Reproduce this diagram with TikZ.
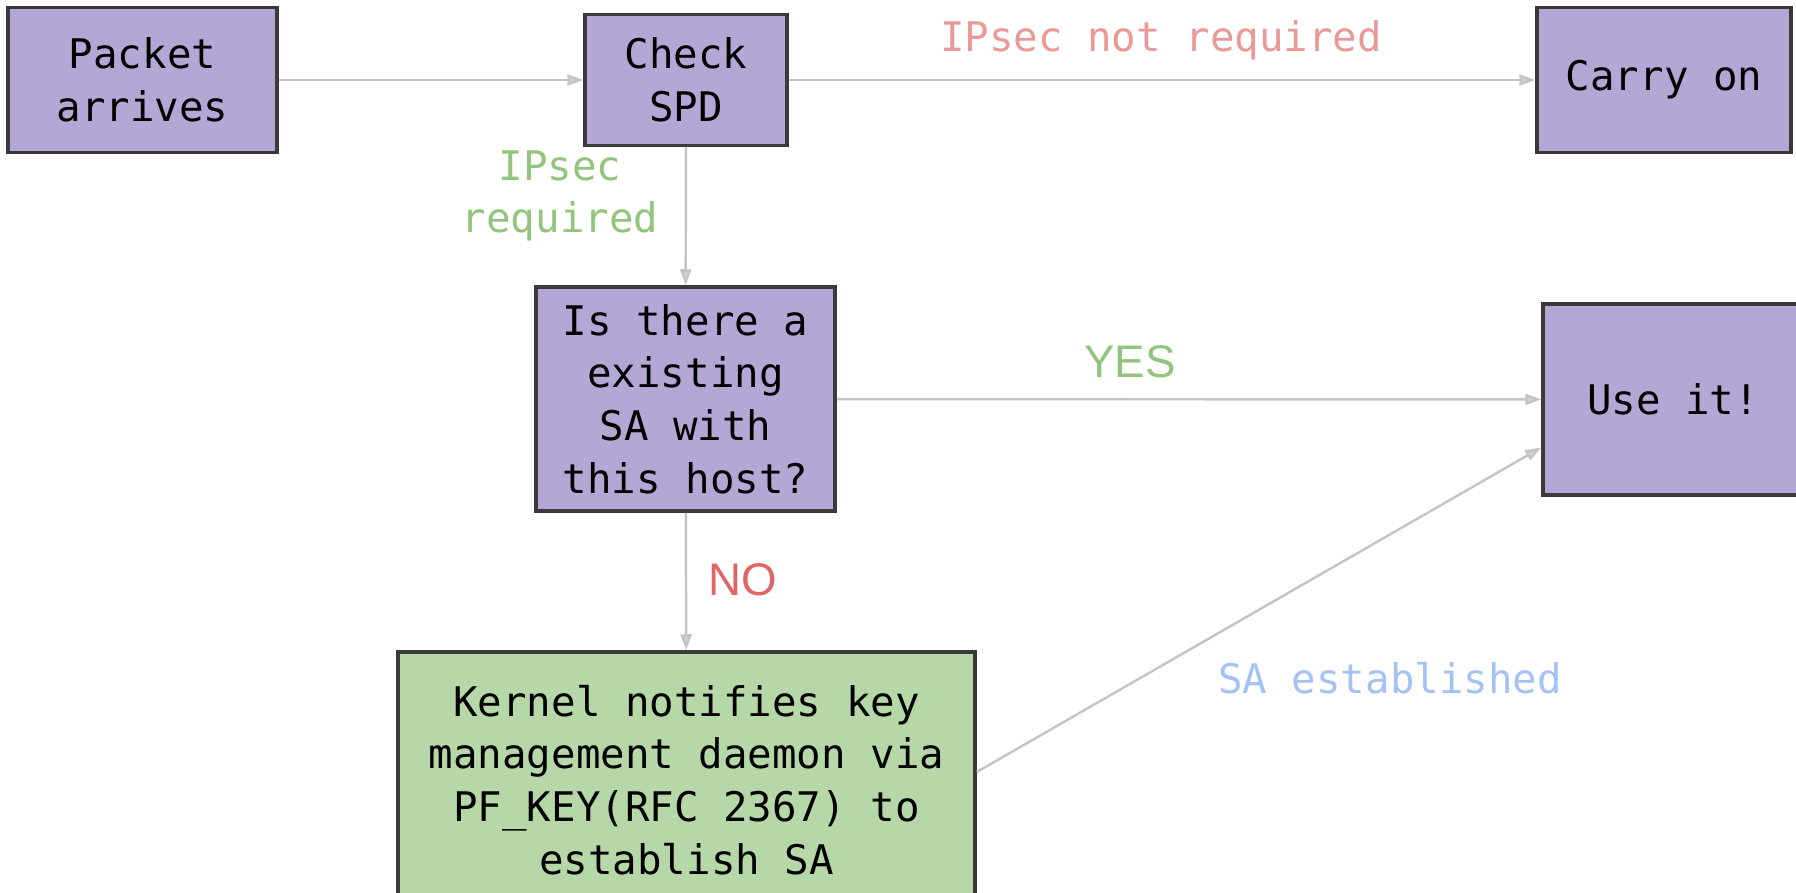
\documentclass[tikz,border=0pt]{standalone}
\usepackage{fontspec}
\newfontfamily\flowmono{DejaVu Sans Mono}
\newfontfamily\flowsans{Liberation Sans}
\usetikzlibrary{arrows.meta}

\definecolor{boxpurple}{HTML}{B4A7D6}
\definecolor{boxgreen}{HTML}{B6D7A8}
\definecolor{boxline}{HTML}{3A3A3A}
\definecolor{arrowgray}{HTML}{C4C4C4}
\definecolor{notreq}{HTML}{EA9999}
\definecolor{okgreen}{HTML}{93C47D}
\definecolor{nored}{HTML}{E06666}
\definecolor{sablue}{HTML}{A4C2F4}

\tikzset{
  stepbox/.style={draw=boxline, line width=1pt, fill=boxpurple, align=center,
    inner sep=0pt, font=\flowmono\fontsize{11.6}{15}\selectfont},
  flow/.style={draw=arrowgray, line width=0.7pt,
    -{Triangle[length=1.6mm,width=1.1mm,fill=arrowgray!80]}},
  monolbl/.style={font=\flowmono\fontsize{11.6}{15}\selectfont, inner sep=0pt, align=center},
  sanslbl/.style={font=\flowsans\fontsize{13}{15}\selectfont, inner sep=0pt},
}

\begin{document}
\begin{tikzpicture}
  % page frame
  \useasboundingbox (0,0) rectangle (17.96,-8.92);
  \clip (0,0) rectangle (17.96,-8.92);

  % boxes
  \node[stepbox, minimum width=2.69cm, minimum height=1.45cm] (packet) at (1.425,-0.80) {Packet\\arrives};
  \node[stepbox, minimum width=2.02cm, minimum height=1.31cm] (check) at (6.86,-0.80) {Check\\SPD};
  \node[stepbox, minimum width=2.54cm, minimum height=1.45cm] (carry) at (16.64,-0.80) {Carry on};
  \node[stepbox, minimum width=2.99cm, minimum height=2.24cm] (query) at (6.855,-3.99) {Is there a\\existing\\SA with\\this host?};
  \node[stepbox, minimum width=2.60cm, minimum height=1.91cm] (use) at (16.73,-3.995) {Use it!};
  \node[stepbox, fill=boxgreen, minimum width=5.77cm, minimum height=2.56cm] (kernel) at (6.865,-7.80)
    {Kernel notifies key\\management daemon via\\PF\_KEY(RFC 2367) to\\establish SA};

  % connectors
  \draw[flow] (packet) -- (check);
  \draw[flow] (check) -- (carry);
  \draw[flow] (check) -- (query);
  \draw[flow] (query) -- (use);
  \draw[flow] (query) -- (kernel);
  \draw[flow] ([yshift=0.08cm]kernel.east) -- (use.200);

  % labels
  \node[monolbl, text=notreq] (lblnotreq) at (11.61,-0.40) {IPsec not required};
  \node[monolbl, text=okgreen] (lblreq) at (5.60,-1.96) {IPsec\\required};
  \node[sanslbl, text=okgreen] (lblyes) at (11.30,-3.62) {YES};
  \node[sanslbl, text=nored] (lblno) at (7.43,-5.80) {NO};
  \node[monolbl, text=sablue] (lblsa) at (13.90,-6.78) {SA established};
\end{tikzpicture}
\end{document}
